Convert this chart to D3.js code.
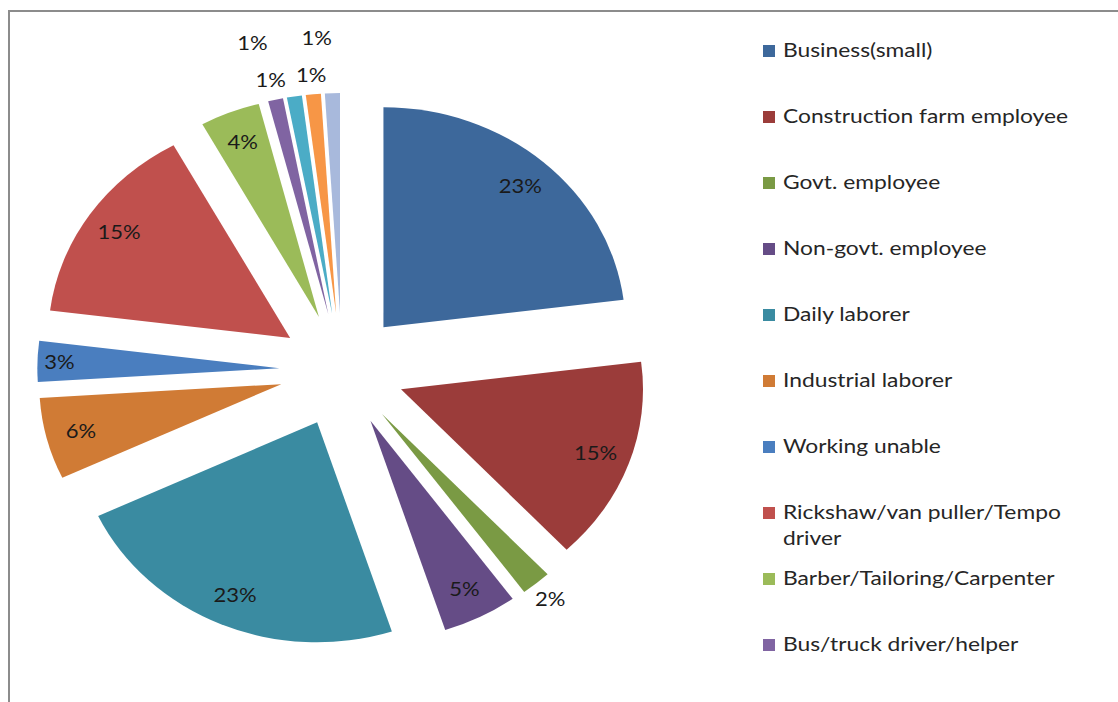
<!DOCTYPE html>
<html>
<head>
<meta charset="utf-8">
<script src="https://cdn.jsdelivr.net/npm/d3@7"></script>
<style>
	body { margin: 0; background: #fff; }
	svg { display: block; }
	text { font-family: Lato, "Open Sans", sans-serif; fill: #1a1a1a; }
</style>
</head>
<body>
<svg id="chart" width="1118" height="702"></svg>
<script>
// occupation categories (legend only lists the first ten)
var categories = ['Business(small)', 'Construction farm employee', 'Govt. employee',
		'Non-govt. employee', 'Daily laborer', 'Industrial laborer', 'Working unable',
		'Rickshaw/van puller/Tempo driver', 'Barber/Tailoring/Carpenter',
		'Bus/truck driver/helper', 'Category 11', 'Category 12', 'Category 13'];

// share of respondents, percent
var shares = [ 23, 15, 2, 5, 23, 6, 3, 15, 4, 1, 1, 1, 1 ];

// slice colours
var colors = [ '#3d689b', '#9b3c3a', '#7a9a44', '#654c86', '#3a8ba1', '#d07b35',
		'#4a7ebf', '#c0504d', '#9bbb59', '#8064a2', '#4bacc6', '#f79646', '#a8b9dc' ];

// legend line breaks
var legendLines = categories.slice(0, 10).map(function(c) {
	return c === 'Rickshaw/van puller/Tempo driver' ? [ 'Rickshaw/van puller/Tempo', 'driver' ] : [ c ];
});

// pie geometry (picture is stretched horizontally)
var cx = 342, cy = 370;
var radius = 220;
var stretch = 1.1;
var explode = 57;

var svg = d3.select('svg#chart');

// chart frame
svg.append('rect').attr('x', 9).attr('y', 11).attr('width', 1200).attr('height', 800)
		.style('fill', 'none').style('stroke', '#8c8c8c').style('stroke-width', 2);

var pie = d3.pie().sort(null).value(function(d) { return d; });
var arcs = pie(shares);
var arc = d3.arc().innerRadius(0).outerRadius(radius);

function mid(d) { return (d.startAngle + d.endAngle) / 2; }

var g = svg.append('g').attr('transform', 'translate(' + cx + ',' + cy + ') scale(' + stretch + ',1)');

g.selectAll('path').data(arcs).enter().append('path')
		.attr('transform', function(d) {
			var a = mid(d);
			return 'translate(' + (Math.sin(a) * explode) + ',' + (-Math.cos(a) * explode) + ')';
		})
		.attr('d', arc)
		.style('fill', function(d, i) { return colors[i]; });

// label placement: distance from slice tip and small angle nudge (degrees)
function labelPos(d, i) {
	var r = 188, nudge = 0;
	if (d.value === 3) r = 200;
	if (d.value <= 2) r = 240;
	if (i === 10) { r = 280; nudge = -6; }
	if (i === 12) { r = 276; nudge = -2.6; }
	var a = mid(d);
	var b = a + nudge * Math.PI / 180;
	var ux = Math.sin(a) * explode + Math.sin(b) * r;
	var uy = -Math.cos(a) * explode - Math.cos(b) * r;
	return [ cx + ux * stretch, cy + uy ];
}

svg.append('g').selectAll('text').data(arcs).enter().append('text')
		.attr('transform', function(d, i) {
			var p = labelPos(d, i);
			return 'translate(' + p[0] + ',' + p[1] + ') scale(' + stretch + ',1)';
		})
		.attr('text-anchor', 'middle').attr('dy', '0.36em')
		.style('font-size', '20px')
		.text(function(d) { return d.value + '%'; });

// legend
var ly = d3.scaleLinear().domain([ 0, 9 ]).range([ 50, 644 ]);
var legend = svg.append('g').selectAll('g').data(legendLines).enter().append('g')
		.attr('transform', function(d, i) { return 'translate(763,' + ly(i) + ')'; });

legend.append('rect').attr('x', 0).attr('y', -5).attr('width', 12).attr('height', 12)
		.style('fill', function(d, i) { return colors[i]; });

legend.append('text').attr('transform', 'translate(20,0) scale(1.2,1)')
		.style('font-size', '19px').style('fill', '#262626')
		.selectAll('tspan').data(function(d) { return d; }).enter().append('tspan')
		.attr('x', 0).attr('y', function(d, j) { return j * 26; }).attr('dy', '0.36em')
		.text(function(d) { return d; });
</script>
</body>
</html>
